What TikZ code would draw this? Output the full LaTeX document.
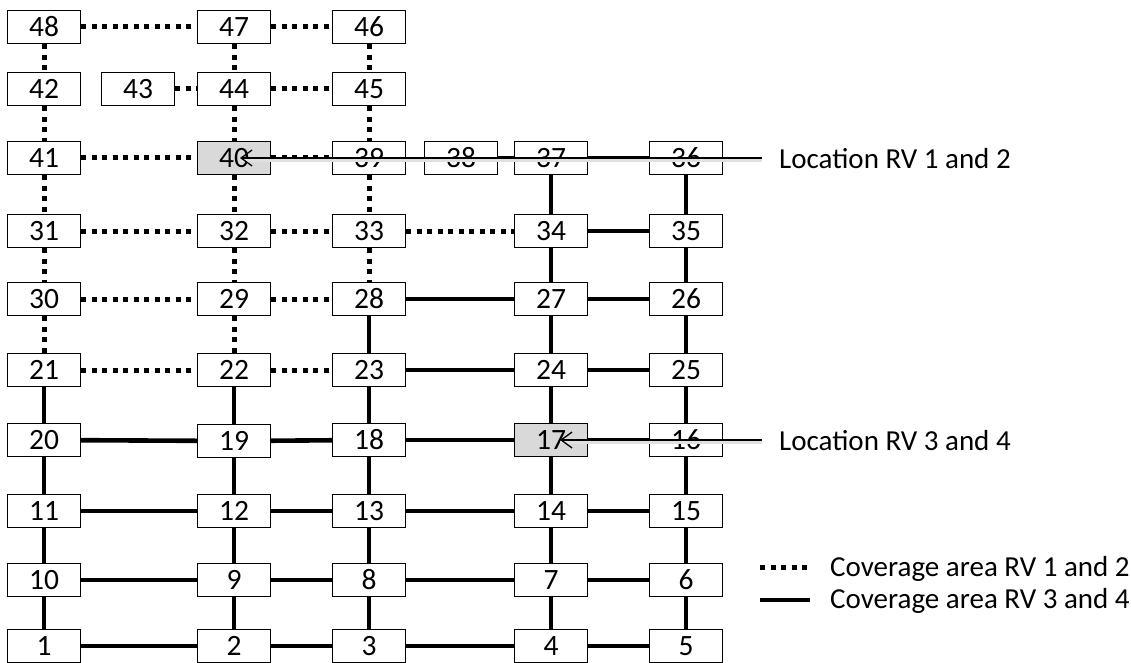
\documentclass[tikz,border=0pt]{standalone}
\usepackage{fontspec}
\setmainfont{Carlito}
\usetikzlibrary{arrows.meta}
\tikzset{
  box/.style={draw, line width=1.4pt, fill=white, minimum width=73pt, minimum height=33pt, inner sep=0pt, font=\fontsize{29.5}{30}\selectfont},
  hot/.style={box, fill=black!15},
  dots/.style={line width=5pt, dash pattern=on 5pt off 5.5pt},
  solid4/.style={line width=4.6pt},
  pointer/.style={line width=1.3pt, -{Straight Barb[length=11pt,width=16pt,line width=1.3pt]},
     preaction={draw=black!12, line width=3pt, transform canvas={yshift=-2.5pt}, -}},
  lab/.style={anchor=west, inner sep=0pt, font=\fontsize{29}{30}\selectfont}
}
\newcommand{\tx}[1]{\raisebox{-1.5pt}{#1}}
\begin{document}
\begin{tikzpicture}[x=1pt,y=-1pt]
\useasboundingbox (0,0) rectangle (1131,663);
% row 1
\node[box] (n48) at (44,27) {\tx{48}};
\node[box] (n47) at (234,27) {\tx{47}};
\node[box] (n46) at (369,27) {\tx{46}};
% row 2
\node[box] (n42) at (44,89) {\tx{42}};
\node[box] (n43) at (138,89) {\tx{43}};
\node[box] (n44) at (234,89) {\tx{44}};
\node[box] (n45) at (369,89) {\tx{45}};
% row 3
\node[box] (n41) at (44,158) {\tx{41}};
\node[hot] (n40) at (234,158) {\tx{40}};
\node[box] (n39) at (369,158) {\tx{39}};
\node[box] (n38) at (461,158) {\tx{38}};
\node[box] (n37) at (551,158) {\tx{37}};
\node[box] (n36) at (686,158) {\tx{36}};
% row 4
\node[box] (n31) at (44,231) {\tx{31}};
\node[box] (n32) at (234,231) {\tx{32}};
\node[box] (n33) at (369,231) {\tx{33}};
\node[box] (n34) at (551,231) {\tx{34}};
\node[box] (n35) at (686,231) {\tx{35}};
% row 5
\node[box] (n30) at (44,299) {\tx{30}};
\node[box] (n29) at (234,299) {\tx{29}};
\node[box] (n28) at (369,299) {\tx{28}};
\node[box] (n27) at (551,299) {\tx{27}};
\node[box] (n26) at (686,299) {\tx{26}};
% row 6
\node[box] (n21) at (44,370) {\tx{21}};
\node[box] (n22) at (234,370) {\tx{22}};
\node[box] (n23) at (369,370) {\tx{23}};
\node[box] (n24) at (551,370) {\tx{24}};
\node[box] (n25) at (686,370) {\tx{25}};
% row 7
\node[box] (n20) at (44,440) {\tx{20}};
\node[box] (n19) at (234,441) {\tx{19}};
\node[box] (n18) at (369,440) {\tx{18}};
\node[hot] (n17) at (551,440) {\tx{17}};
\node[box] (n16) at (686,440) {\tx{16}};
% row 8
\node[box] (n11) at (44,511) {\tx{11}};
\node[box] (n12) at (234,511) {\tx{12}};
\node[box] (n13) at (369,511) {\tx{13}};
\node[box] (n14) at (551,511) {\tx{14}};
\node[box] (n15) at (686,511) {\tx{15}};
% row 9
\node[box] (n10) at (44,580) {\tx{10}};
\node[box] (n9) at (234,580) {\tx{9}};
\node[box] (n8) at (369,580) {\tx{8}};
\node[box] (n7) at (551,580) {\tx{7}};
\node[box] (n6) at (686,580) {\tx{6}};
% row 10
\node[box] (n1) at (44,646) {\tx{1}};
\node[box] (n2) at (234,646) {\tx{2}};
\node[box] (n3) at (369,646) {\tx{3}};
\node[box] (n4) at (551,646) {\tx{4}};
\node[box] (n5) at (686,646) {\tx{5}};

% dotted connectors (RV 1 and 2)
\foreach \a/\b in {48/47,47/46,43/44,44/45,41/40,40/39,31/32,32/33,33/34,30/29,29/28,21/22,22/23,
                   48/42,42/41,41/31,31/30,30/21,47/44,44/40,40/32,32/29,29/22,46/45,45/39,39/33,33/28}
  \draw[dots] (n\a) -- (n\b);
% solid connectors (RV 3 and 4)
\foreach \a/\b in {38/37,37/36,34/35,28/27,27/26,23/24,24/25,20/19,19/18,18/17,17/16,
                   11/12,12/13,13/14,14/15,10/9,9/8,8/7,7/6,1/2,2/3,3/4,4/5,
                   21/20,20/11,11/10,10/1,22/19,19/12,12/9,9/2,28/23,23/18,18/13,13/8,8/3,
                   37/34,34/27,27/24,24/17,17/14,14/7,7/4,36/35,35/26,26/25,25/16,16/15,15/6,6/5}
  \draw[solid4] (n\a) -- (n\b);

% location labels and pointers
\node[lab] (loc12) at (779,159) {Location RV 1 and 2};
\node[lab] (loc34) at (779,441) {Location RV 3 and 4};
\coordinate (s12) at (762,158);
\coordinate (s34) at (762,440);
\coordinate (t40) at (240,158);
\coordinate (t17) at (560,440);
\draw[pointer] (s12) -- (t40);
\draw[pointer] (s34) -- (t17);

% legend
\coordinate (ld1) at (760,567);
\coordinate (ld2) at (810,567);
\coordinate (ls1) at (760,600);
\coordinate (ls2) at (810,600);
\draw[dots] (ld1) -- (ld2);
\draw[solid4] (ls1) -- (ls2);
\node[lab] (leg1) at (830,569) {Coverage area RV 1 and 2};
\node[lab] (leg2) at (830,601) {Coverage area RV 3 and 4};
\end{tikzpicture}
\end{document}
